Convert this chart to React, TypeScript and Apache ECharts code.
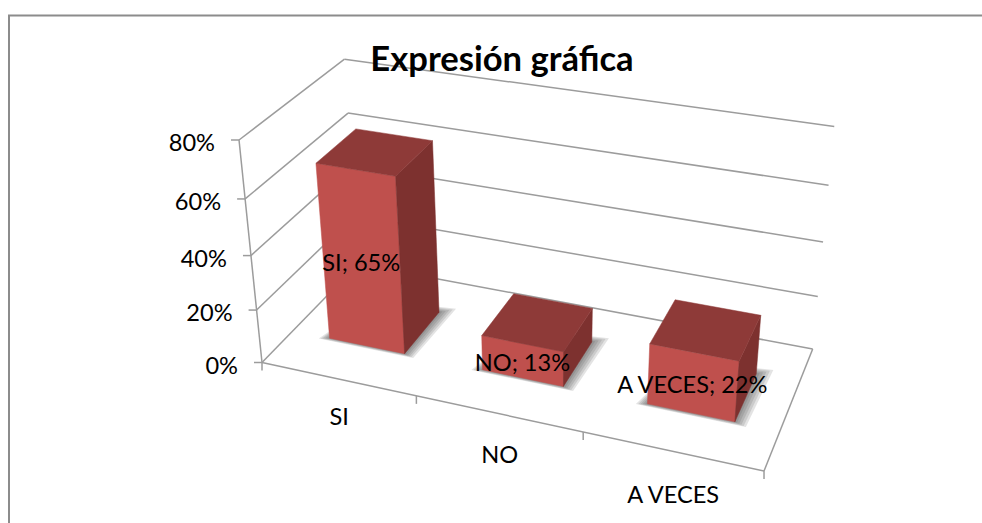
import React, { useEffect, useRef } from "react";
import * as echarts from "echarts";

const titleText = "Expresión gráfica";
const categories = ["SI", "NO", "A VECES"];
const shares = [65, 13, 22];
const yTicks = [0, 20, 40, 60, 80];

// Perspective camera of the 3D scene: world (X along categories, Y along values, Z depth), each 0..1
const camO = [262, 362.5, 1];
const camX = [416.6, 55.84, -0.1118];
const camY = [-40.9, -233, -0.075];
const camZ = [137.5, -67.9, 0.116];
const project = (X: number, Y: number, Z: number): number[] => {
  const h = [0, 1, 2].map((i) => camO[i] + X * camX[i] + Y * camY[i] + Z * camZ[i]);
  return [h[0] / h[2], h[1] / h[2]];
};

const FONT = "Lato, 'Open Sans', sans-serif";
const LINE = "#9c9c9c";
const LABEL_SIZE = 23.6;
const BAR_Z0 = 0.3;
const BAR_Z1 = 0.7;
const BAR_FILL = 0.5; // share of a category band taken by the bar
const SHADOW_LAYERS = [5, 4, 3, 2, 1];

const world = (params: any, api: any, cat: number, value: number) => {
  const sys = params.coordSys;
  const c = api.coord([cat, value]);
  return {
    X: (c[0] - sys.x) / sys.width,
    Y: (sys.y + sys.height - c[1]) / sys.height,
    band: api.size([1, 0])[0] / sys.width,
  };
};

const line = (a: number[], b: number[]) => ({
  type: "line",
  shape: { x1: a[0], y1: a[1], x2: b[0], y2: b[1] },
  style: { stroke: LINE, lineWidth: 1.5, fill: "none" },
});

const text = (t: string, x: number, y: number, align: string, size: number) => ({
  type: "text",
  style: { text: t, x, y, align, verticalAlign: "middle", fill: "#000", font: `${size}px ${FONT}` },
});

const poly = (pts: number[][], fill: string) => ({
  type: "polygon",
  shape: { points: pts },
  style: { fill, stroke: fill, lineWidth: 0.5 },
});

const renderWalls = (params: any, api: any) => {
  const v = api.value(1);
  const { Y } = world(params, api, 0, v);
  const front = project(0, Y, 0);
  const back = project(0, Y, 1);
  const right = project(1, Y, 1);
  const children: any[] = [
    line(front, back),
    line(back, right),
    line([front[0] - 8, front[1]], front),
    text(`${v}%`, front[0] - 24, front[1] + 2, "right", LABEL_SIZE),
  ];
  if (params.dataIndex === 0) {
    children.push(line(project(0, 0, 0), project(1, 0, 0)));
    children.push(line(project(1, 0, 0), project(1, 0, 1)));
    children.push(line(project(0, 0, 0), project(0, 1, 0)));
  }
  return { type: "group", children };
};

const renderCategoryTicks = (params: any, api: any) => {
  const cat = api.value(0);
  const { X, band } = world(params, api, cat, 0);
  const children: any[] = [];
  const tick = (x: number) => {
    const p = project(x, 0, 0);
    children.push(line(p, [p[0], p[1] + 8]));
  };
  tick(X - band / 2);
  if (params.dataIndex === categories.length - 1) tick(X + band / 2);
  const c = project(X, 0, 0);
  children.push(text(categories[cat], c[0] + 1.5, c[1] + 35 + X * 10, "center", LABEL_SIZE));
  return { type: "group", children };
};

const renderBars = (params: any, api: any) => {
  const cat = api.value(0);
  const val = api.value(1);
  const { X, Y, band } = world(params, api, cat, val);
  const x0 = X - (band * BAR_FILL) / 2;
  const x1 = X + (band * BAR_FILL) / 2;
  const z0 = BAR_Z0;
  const z1 = BAR_Z1;
  const shadows = SHADOW_LAYERS.map((e) => ({
    type: "polygon",
    shape: {
      points: [
        project(x0 - 0.004 * e, 0, z0 - 0.004 * e),
        project(x1 + 0.0045 * e, 0, z0 - 0.004 * e),
        project(x1 + 0.0055 * e, 0, z1 + 0.012 * e),
        project(x0 + 0.02, 0, z1),
      ],
    },
    style: { fill: "rgba(60,60,60,0.14)" },
  }));
  const f = (x: number, y: number, z: number) => project(x, y, z);
  const mid = f(X, Y / 2, z0);
  return {
    type: "group",
    children: [
      ...shadows,
      poly([f(x0, 0, z0), f(x1, 0, z0), f(x1, Y, z0), f(x0, Y, z0)], "#bf504d"),
      poly([f(x1, 0, z0), f(x1, 0, z1), f(x1, Y, z1), f(x1, Y, z0)], "#7d312f"),
      poly([f(x0, Y, z0), f(x1, Y, z0), f(x1, Y, z1), f(x0, Y, z1)], "#8e3a38"),
      text(`${categories[cat]}; ${val}%`, mid[0], mid[1] + 1, "center", LABEL_SIZE),
    ],
  };
};

export default function App() {
  const ref = useRef<HTMLDivElement>(null);
  useEffect(() => {
    document.body.style.margin = "0";
    const chart = echarts.init(ref.current!, undefined, { renderer: "svg" });
    chart.setOption({
      animation: false,
      backgroundColor: "#fff",
      title: {
        text: titleText,
        left: 497,
        top: 35,
        textAlign: "center",
        textStyle: { fontFamily: FONT, fontSize: 34.6, fontWeight: "bold", color: "#000" },
      },
      grid: { left: 100, top: 100, width: 300, height: 300, containLabel: false },
      xAxis: { type: "category", data: categories, show: false },
      yAxis: { type: "value", min: 0, max: 80, interval: 20, show: false },
      graphic: [
        {
          type: "polyline",
          shape: { points: [[9, 530], [9, 15.5], [990, 15.5]] },
          style: { stroke: "#8c8c8c", lineWidth: 2, fill: "none" },
          silent: true,
        },
      ],
      series: [
        {
          type: "custom",
          coordinateSystem: "cartesian2d",
          renderItem: renderWalls,
          data: yTicks.map((v) => [0, v]),
          encode: { x: 0, y: 1 },
          silent: true,
          z: 1,
        },
        {
          type: "custom",
          coordinateSystem: "cartesian2d",
          renderItem: renderCategoryTicks,
          data: categories.map((_, i) => [i, 0]),
          encode: { x: 0, y: 1 },
          silent: true,
          z: 1,
        },
        {
          type: "custom",
          coordinateSystem: "cartesian2d",
          renderItem: renderBars,
          data: shares.map((v, i) => [i, v]),
          encode: { x: 0, y: 1 },
          silent: true,
          z: 2,
        },
      ],
    });
    return () => chart.dispose();
  }, []);
  return <div ref={ref} style={{ width: 982, height: 523 }} />;
}
